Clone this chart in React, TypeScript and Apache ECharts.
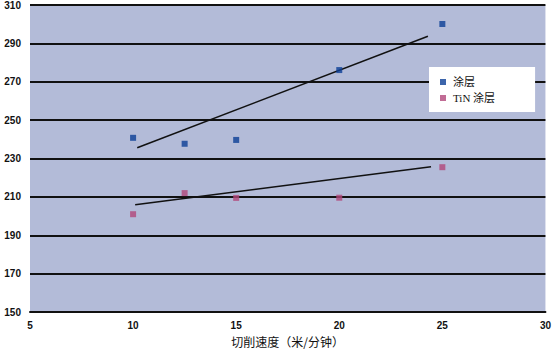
import React, { useEffect, useRef } from "react";
import * as echarts from "echarts";

const seriesNames = ["涂层", "TiN 涂层"];
const speedsA = [10, 12.5, 15, 20, 25];
const coatedValues = [240.8, 237.7, 239.7, 276.1, 300.1];
const speedsB = [10, 12.5, 15, 20, 25];
const tinValues = [201.0, 212.0, 209.5, 209.6, 225.5];
const coatedTrend = [
  [10.2, 235.6],
  [24.3, 293.7],
];
const tinTrend = [
  [10.1, 205.9],
  [24.45, 225.7],
];
const xAxisTitle = "切削速度（米/分钟）";

export default function App() {
  const ref = useRef<HTMLDivElement>(null);
  useEffect(() => {
    document.body.style.margin = "0";
    if (!ref.current) return;
    const chart = echarts.init(ref.current, undefined, { renderer: "svg" });
    const labelFont = {
      fontFamily: "Liberation Sans, Arial, sans-serif",
      fontWeight: "bold" as const,
      fontSize: 10,
      color: "#111",
    };
    chart.setOption({
      animation: false,
      backgroundColor: "#ffffff",
      grid: {
        left: 30,
        right: 6,
        top: 4.7,
        bottom: 36,
        show: true,
        backgroundColor: "#b3bbd8",
        borderWidth: 0,
      },
      legend: {
        orient: "vertical",
        left: 429,
        top: 67,
        backgroundColor: "#ffffff",
        padding: [9, 40, 8, 11],
        itemGap: 4,
        itemWidth: 6,
        itemHeight: 6,
        icon: "rect",
        data: seriesNames,
        textStyle: {
          fontFamily: "Liberation Serif, Noto Sans CJK SC, serif",
          fontSize: 11,
          lineHeight: 12,
          color: "#111",
          padding: [0, 0, 0, 2],
        },
      },
      xAxis: {
        type: "value",
        min: 5,
        max: 30,
        interval: 5,
        name: xAxisTitle,
        nameLocation: "middle",
        nameGap: 21,
        nameTextStyle: {
          fontFamily: "Noto Sans CJK SC, sans-serif",
          fontSize: 12,
          color: "#111",
        },
        axisLine: { show: true, lineStyle: { color: "#111", width: 2 } },
        axisTick: { show: false },
        splitLine: { show: false },
        axisLabel: { ...labelFont, margin: 8 },
      },
      yAxis: {
        type: "value",
        min: 150,
        max: 310,
        interval: 20,
        axisLine: { show: false },
        axisTick: { show: false },
        splitLine: { show: true, lineStyle: { color: "#111", width: 2 } },
        axisLabel: { ...labelFont, margin: 9 },
      },
      series: [
        {
          name: seriesNames[0],
          type: "scatter",
          symbol: "rect",
          symbolSize: 6,
          itemStyle: { color: "#0b3f96" },
          data: speedsA.map((x, i) => [x, coatedValues[i]]),
          z: 3,
        },
        {
          name: seriesNames[1],
          type: "scatter",
          symbol: "rect",
          symbolSize: 6,
          itemStyle: { color: "#b2477b" },
          data: speedsB.map((x, i) => [x, tinValues[i]]),
          z: 3,
        },
        {
          type: "line",
          data: coatedTrend,
          showSymbol: false,
          symbol: "none",
          lineStyle: { color: "#111", width: 1.6 },
          silent: true,
          z: 2,
        },
        {
          type: "line",
          data: tinTrend,
          showSymbol: false,
          symbol: "none",
          lineStyle: { color: "#111", width: 1.6 },
          silent: true,
          z: 2,
        },
      ],
    });
    return () => chart.dispose();
  }, []);
  return <div ref={ref} style={{ width: 554, height: 352 }} />;
}
